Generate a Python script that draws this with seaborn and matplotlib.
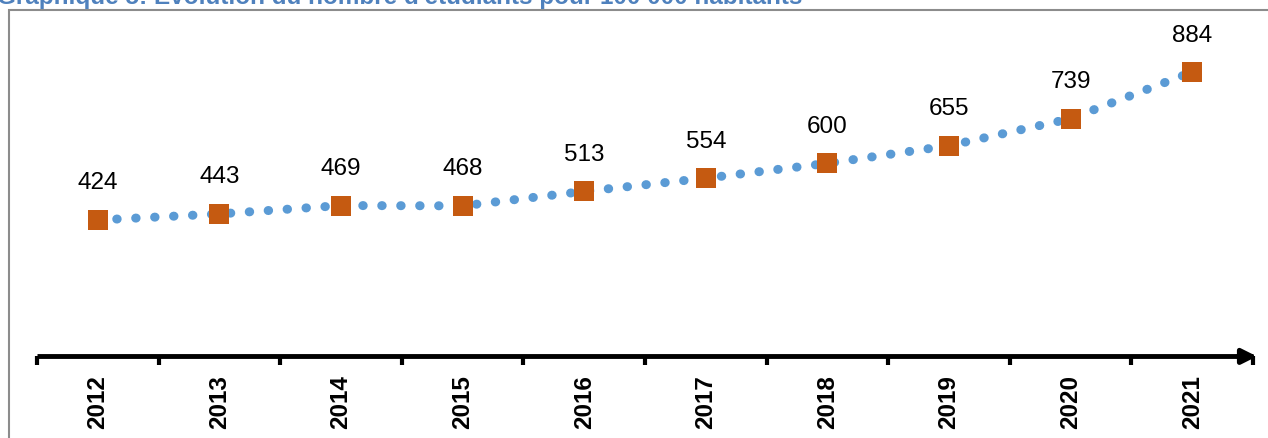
import matplotlib
matplotlib.use("Agg")
import matplotlib.pyplot as plt
import matplotlib.patches as mpatches
from matplotlib.ticker import FixedLocator
import pandas as pd
import seaborn as sns

years = ["2012", "2013", "2014", "2015", "2016", "2017", "2018", "2019", "2020", "2021"]
students = [424, 443, 469, 468, 513, 554, 600, 655, 739, 884]
title = "Graphique 5: Evolution du nombre d'étudiants pour 100 000 habitants"

BLUE = "#5B9BD5"
ORANGE = "#C55A11"
W, H = 1268, 439

sns.set_theme(style="white")
plt.rcParams["font.family"] = ["Liberation Sans", "DejaVu Sans"]

df = pd.DataFrame({"year": years, "students": students})

fig = plt.figure(figsize=(W / 100, H / 100), dpi=100)
ax = fig.add_axes([37 / W, 1 - 357.4 / H, (1253 - 37) / W, (357.4 - 35.7) / H])

# dotted line: round dots about 8px wide, 19px apart
sns.lineplot(data=df, x="year", y="students", ax=ax, color=BLUE, linewidth=6.5,
             linestyle=(0, (0.05, 2.05)), dash_capstyle="round", sort=False)
sns.scatterplot(data=df, x="year", y="students", ax=ax, color=ORANGE, marker="s",
                s=190, linewidth=0, zorder=5)

for i, v in enumerate(students):
    ax.annotate(str(v), (i, v), xytext=(0, 27), textcoords="offset points",
                ha="center", va="center", fontsize=17.5, color="black")

ax.set_xlim(-0.5, len(years) - 0.5)
ax.set_ylim(0, 1000)
ax.set_xlabel("")
ax.set_ylabel("")
ax.set_yticks([])
for side in ["left", "right", "top"]:
    ax.spines[side].set_visible(False)
ax.spines["bottom"].set_linewidth(3.5)
ax.spines["bottom"].set_color("black")
ax.spines["bottom"].set_capstyle("butt")

ax.xaxis.set_minor_locator(FixedLocator([i - 0.5 for i in range(len(years) + 1)]))
ax.tick_params(axis="x", which="minor", bottom=True, length=6.5, width=3, color="black",
               direction="out")
ax.tick_params(axis="x", which="major", length=0, pad=13)
for lab in ax.get_xticklabels():
    lab.set_rotation(90)
    lab.set_fontweight("bold")
    lab.set_fontsize(17.5)
    lab.set_color("black")

# arrow head at the end of the axis
ax.annotate("", xy=(1257 / W, 1 - 357.4 / H), xytext=(1238 / W, 1 - 357.4 / H),
            xycoords="figure fraction", textcoords="figure fraction",
            arrowprops=dict(arrowstyle="-|>", color="black", lw=3.5, mutation_scale=22,
                            shrinkA=0, shrinkB=0))

# outer frame
fig.patches.append(mpatches.Rectangle((8.5 / W, -0.1), 1.2, 1.1 - 11 / H, transform=fig.transFigure,
                                      fill=False, edgecolor="#8c8c8c", linewidth=1.5))

# title is cut at the top edge in the original
fig.text(-3 / W, 1 - 4 / H, title, ha="left", va="baseline", fontsize=17.5,
         fontweight="bold", color="#4F81BD")

fig.savefig("out.png", dpi=100)
